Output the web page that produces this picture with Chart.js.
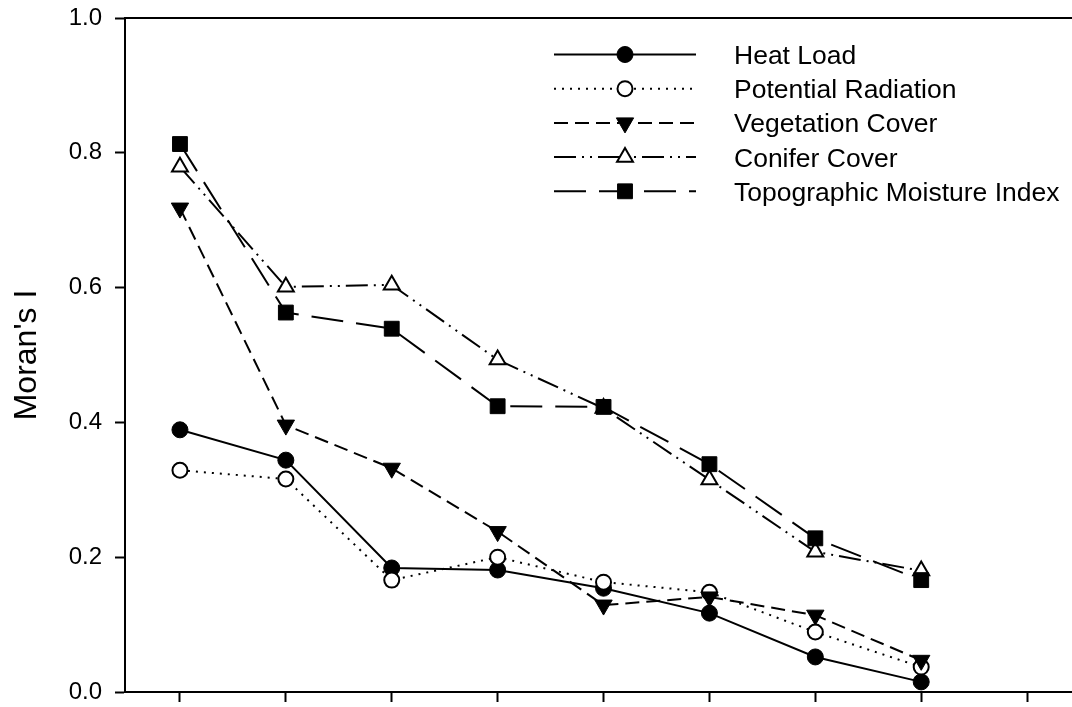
<!DOCTYPE html>
<html>
<head>
<meta charset="utf-8">
<script src="https://cdn.jsdelivr.net/npm/chart.js@4.4.1/dist/chart.umd.min.js"></script>
<style>
  html, body { margin: 0; padding: 0; background: #fff; }
  canvas { display: block; }
</style>
</head>
<body>
<canvas id="chart" width="1072" height="707"></canvas>
<script>
// Moran's I by distance class for five landscape variables
const lags = [1, 2, 3, 4, 5, 6, 7, 8];
const heatLoad = [0.389, 0.344, 0.184, 0.181, 0.154, 0.117, 0.052, 0.015];
const potentialRadiation = [0.329, 0.316, 0.166, 0.200, 0.163, 0.148, 0.089, 0.037];
const vegetationCover = [0.718, 0.396, 0.332, 0.238, 0.129, 0.141, 0.114, 0.047];
const coniferCover = [0.779, 0.601, 0.604, 0.493, 0.421, 0.315, 0.208, 0.180];
const topoMoisture = [0.813, 0.563, 0.539, 0.424, 0.423, 0.338, 0.228, 0.166];
const seriesNames = ['Heat Load', 'Potential Radiation', 'Vegetation Cover', 'Conifer Cover', 'Topographic Moisture Index'];
const xTickValues = [1, 2, 3, 4, 5, 6, 7, 8, 9];
const yTickValues = [0, 0.2, 0.4, 0.6, 0.8, 1.0];
const yTitle = "Moran's I";

const FONT = "'Liberation Sans', Arial, Helvetica, sans-serif";
const INK = '#000';
const X_MIN = 0.481, X_MAX = 9.424;

// line and marker styles, one per series
const seriesStyles = [
  { dash: [],                  pointStyle: 'circle',   radius: 8,    rotation: 0,   fill: '#000', pbw: 1 },
  { dash: [2, 6],              pointStyle: 'circle',   radius: 7.5,  rotation: 0,   fill: '#fff', pbw: 2 },
  { dash: [14, 7],             pointStyle: 'triangle', radius: 10,   rotation: 180, fill: '#000', pbw: 1 },
  { dash: [22, 6, 2, 6, 2, 6], pointStyle: 'triangle', radius: 9.2,  rotation: 0,   fill: '#fff', pbw: 2 },
  { dash: [32, 13],            pointStyle: 'rect',     radius: 10.5, rotation: 0,   fill: '#000', pbw: 1 }
];
const seriesValues = [heatLoad, potentialRadiation, vegetationCover, coniferCover, topoMoisture];

const datasets = seriesValues.map((vals, i) => {
  const s = seriesStyles[i];
  return {
    label: seriesNames[i],
    data: vals.map((v, k) => ({ x: lags[k], y: v })),
    xAxisID: 'x',
    yAxisID: 'y',
    borderColor: INK,
    borderWidth: 2,
    borderDash: s.dash,
    fill: false,
    tension: 0,
    pointStyle: s.pointStyle,
    pointRadius: s.radius,
    pointHoverRadius: s.radius,
    pointRotation: s.rotation,
    pointBackgroundColor: s.fill,
    pointBorderColor: INK,
    pointBorderWidth: s.pbw,
    order: seriesValues.length - i
  };
});

function drawMarker(ctx, ds, x, y) {
  const r = ds.pointRadius;
  ctx.beginPath();
  if (ds.pointStyle === 'circle') {
    ctx.arc(x, y, r, 0, Math.PI * 2);
  } else if (ds.pointStyle === 'rect') {
    const h = r * Math.SQRT1_2;
    ctx.rect(x - h, y - h, 2 * h, 2 * h);
  } else {
    let a = (ds.pointRotation || 0) * Math.PI / 180;
    ctx.moveTo(x + Math.sin(a) * r, y - Math.cos(a) * r);
    a += Math.PI * 2 / 3;
    ctx.lineTo(x + Math.sin(a) * r, y - Math.cos(a) * r);
    a += Math.PI * 2 / 3;
    ctx.lineTo(x + Math.sin(a) * r, y - Math.cos(a) * r);
    ctx.closePath();
  }
  ctx.fillStyle = ds.pointBackgroundColor;
  ctx.fill();
  ctx.lineWidth = ds.pointBorderWidth;
  ctx.strokeStyle = INK;
  ctx.stroke();
}

// key in the upper right: line sample with centred marker, then the name
const seriesKey = {
  id: 'seriesKey',
  afterDraw(chart) {
    const ctx = chart.ctx;
    const lineX0 = 554, lineX1 = 696, markX = 625, textX = 734, rowY0 = 54.5, rowStep = 34.2;
    chart.data.datasets.forEach((ds, i) => {
      const y = rowY0 + i * rowStep;
      ctx.save();
      ctx.strokeStyle = INK;
      ctx.lineWidth = ds.borderWidth;
      ctx.setLineDash(ds.borderDash);
      ctx.beginPath();
      ctx.moveTo(lineX0, y);
      ctx.lineTo(lineX1, y);
      ctx.stroke();
      ctx.setLineDash([]);
      drawMarker(ctx, ds, markX, y);
      ctx.fillStyle = INK;
      ctx.font = '26.5px ' + FONT;
      ctx.textAlign = 'left';
      ctx.textBaseline = 'alphabetic';
      ctx.fillText(ds.label, textX, y + 9.5);
      ctx.restore();
    });
  }
};

// keep the plot frame exactly where the axes put it
function noScalePadding(s) {
  s.paddingTop = 0;
  s.paddingBottom = 0;
  s.paddingLeft = 0;
  s.paddingRight = 0;
}

new Chart(document.getElementById('chart'), {
  type: 'line',
  data: { datasets },
  options: {
    responsive: false,
    animation: false,
    events: [],
    layout: { autoPadding: false, padding: { top: 18, left: 0, right: 0, bottom: 0 } },
    plugins: { legend: { display: false }, tooltip: { enabled: false } },
    scales: {
      x: {
        type: 'linear',
        position: 'bottom',
        min: X_MIN,
        max: X_MAX,
        afterBuildTicks: (s) => { s.ticks = xTickValues.map(v => ({ value: v })); },
        afterFit: (s) => { s.height = 15; noScalePadding(s); },
        ticks: { display: false },
        grid: { drawOnChartArea: false, drawTicks: true, tickLength: 10, tickWidth: 2, tickColor: INK },
        border: { display: true, color: INK, width: 2 }
      },
      xTop: {
        type: 'linear',
        position: 'top',
        min: X_MIN,
        max: X_MAX,
        afterFit: (s) => { s.height = 0; noScalePadding(s); },
        ticks: { display: false },
        grid: { display: false, drawTicks: false },
        border: { display: true, color: INK, width: 2 }
      },
      y: {
        type: 'linear',
        position: 'left',
        min: 0,
        max: 1,
        afterBuildTicks: (s) => { s.ticks = yTickValues.map(v => ({ value: v })); },
        afterFit: (s) => { s.width = 125; noScalePadding(s); },
        ticks: {
          callback: (v) => Number(v).toFixed(1),
          color: INK,
          padding: 13,
          font: { family: FONT, size: 24 }
        },
        grid: { drawOnChartArea: false, drawTicks: true, tickLength: 10, tickWidth: 2, tickColor: INK },
        border: { display: true, color: INK, width: 2 },
        title: {
          display: true,
          text: yTitle,
          color: INK,
          font: { family: FONT, size: 32 },
          padding: { top: 8, bottom: 0 }
        }
      }
    }
  },
  plugins: [seriesKey]
});
</script>
</body>
</html>
